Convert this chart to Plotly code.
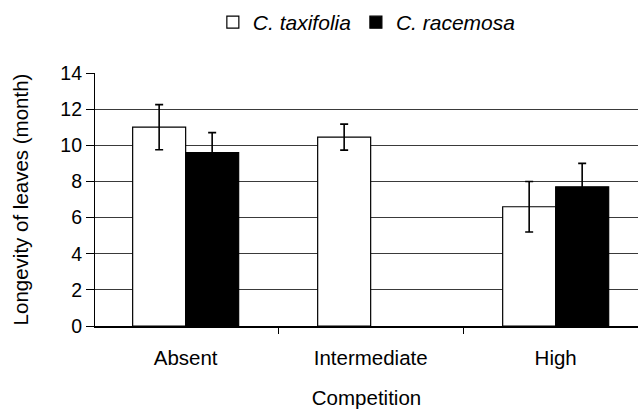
import plotly.graph_objects as go

categories = ["Absent", "Intermediate", "High"]
taxifolia = [11.0, 10.45, 6.6]
taxifolia_err = [1.25, 0.72, 1.4]
racemosa = [9.6, None, 7.7]
racemosa_err = [1.1, None, 1.3]
y_ticks = [0, 2, 4, 6, 8, 10, 12, 14]

FONT = "Liberation Sans, Arial, sans-serif"

fig = go.Figure()
fig.add_trace(go.Bar(
    x=categories, y=taxifolia, name="<i>C. taxifolia</i>",
    marker=dict(color="white", line=dict(color="black", width=1.2)),
    error_y=dict(type="data", array=taxifolia_err, color="black", thickness=1.6, width=4),
))
fig.add_trace(go.Bar(
    x=categories, y=racemosa, name="<i>C. racemosa</i>",
    marker=dict(color="black", line=dict(color="black", width=1.2)),
    error_y=dict(type="data", array=racemosa_err, color="black", thickness=1.6, width=4),
))

fig.update_layout(
    width=638, height=409,
    margin=dict(l=95, r=0, t=73, b=83),
    paper_bgcolor="white", plot_bgcolor="white",
    font=dict(family=FONT, size=20, color="black"),
    barmode="group", bargap=0.427, bargroupgap=0,
    showlegend=True,
    legend=dict(orientation="h", xref="container", yref="container",
                x=0.575, xanchor="center", y=0.995, yanchor="top",
                font=dict(size=21), itemwidth=30, tracegroupgap=0,
                bgcolor="rgba(0,0,0,0)"),
    xaxis=dict(
        type="category", range=[-0.49, 2.445],
        tickson="boundaries", ticks="outside", ticklen=6, tickcolor="black",
        showline=True, linecolor="black", linewidth=2,
        showgrid=False, tickfont=dict(size=20.5), ticklabelstandoff=12,
        title=dict(text="Competition", font=dict(size=20.5), standoff=23),
    ),
    yaxis=dict(
        range=[0, 14], tickvals=y_ticks, ticks="outside", ticklen=8,
        tickcolor="black", showline=True, linecolor="black", linewidth=1.2,
        showgrid=True, gridcolor="#3a3a3a", gridwidth=1.3,
        zeroline=False, tickfont=dict(size=19.5),
        title=dict(text="Longevity of leaves (month)", font=dict(size=20.5), standoff=26),
    ),
)

fig.write_html("out.html")
